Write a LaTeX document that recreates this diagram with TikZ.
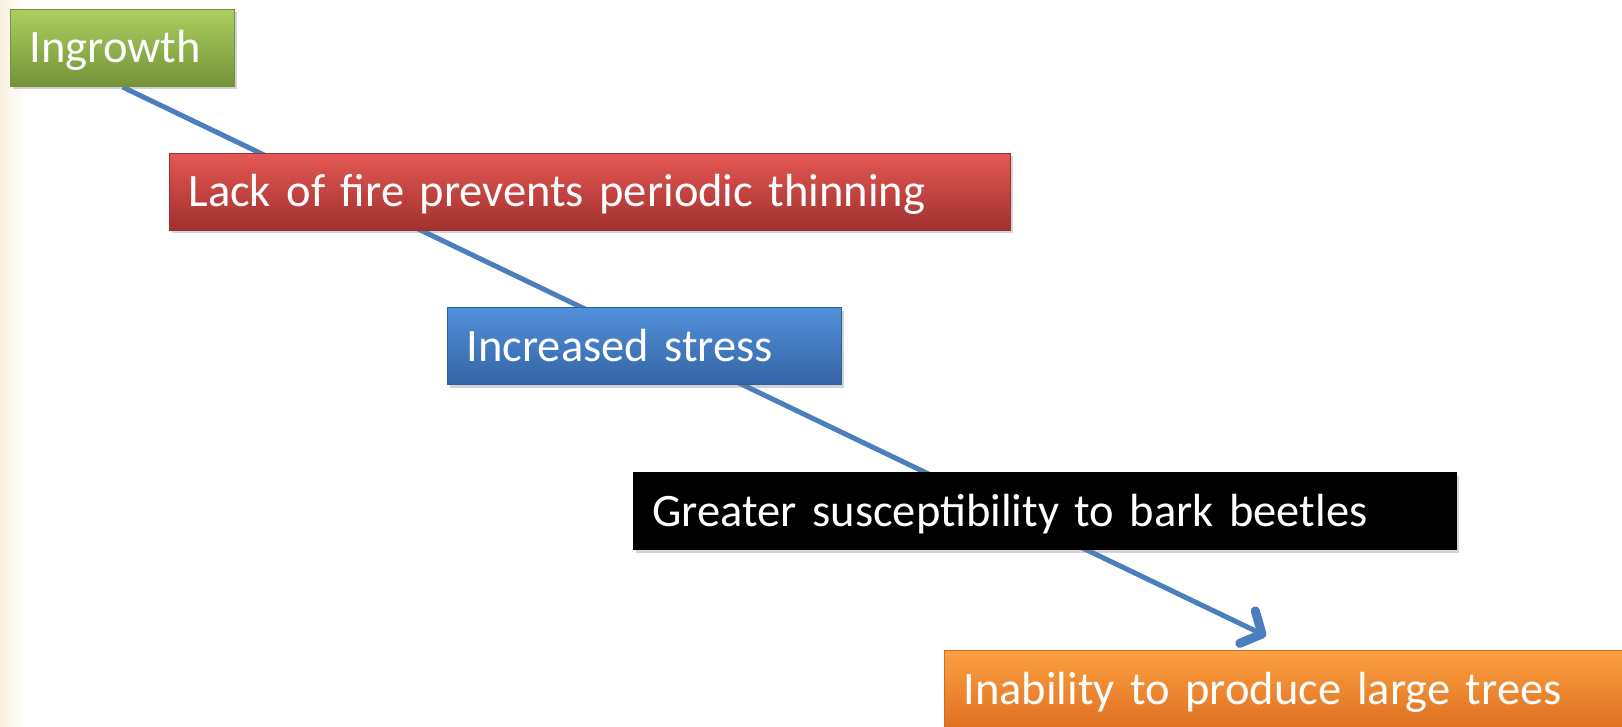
\documentclass[tikz,border=0pt]{standalone}
\usepackage{fontspec}
\setmainfont{Carlito}
\usetikzlibrary{arrows.meta,shadows,backgrounds}

\definecolor{linkblue}{RGB}{74,126,188}
\definecolor{paper}{RGB}{250,240,224}

\begin{document}
\begin{tikzpicture}[x=1pt,y=-1pt,
  stage/.style={anchor=north west, inner xsep=19pt, inner ysep=0pt,
    minimum height=77pt, align=left, text=white,
    font=\fontsize{46.5}{54}\selectfont, text height=30pt, text depth=0pt,
    line width=1pt,
    drop shadow={shadow xshift=2pt,shadow yshift=-3pt,opacity=0.35}},
  greenstage/.style={stage, draw={rgb,255:red,120;green,145;blue,62},
    top color={rgb,255:red,172;green,206;blue,96},
    bottom color={rgb,255:red,116;green,146;blue,56}},
  redstage/.style={stage, draw={rgb,255:red,150;green,50;blue,48},
    top color={rgb,255:red,228;green,88;blue,84},
    bottom color={rgb,255:red,160;green,48;blue,46}},
  bluestage/.style={stage, draw={rgb,255:red,50;green,95;blue,155},
    top color={rgb,255:red,82;green,144;blue,218},
    bottom color={rgb,255:red,52;green,100;blue,165}},
  blackstage/.style={stage, draw=black, fill=black},
  orangestage/.style={stage, draw={rgb,255:red,200;green,110;blue,40},
    top color={rgb,255:red,252;green,160;blue,64},
    bottom color={rgb,255:red,222;green,112;blue,34}},
  link/.style={draw=linkblue, line width=5pt,
    -{Straight Barb[length=16pt,width=36pt,round,line width=9pt]}}]

  \useasboundingbox (0,0) rectangle (1622,727);

  % the chain of stages
  \node[greenstage, text width=186pt] (ingrowth) at (10,9) {Ingrowth};
  \node[redstage, text width=803pt] (nofire) at (169,153) {Lack of fire prevents periodic thinning};
  \node[bluestage, text width=356pt] (stress) at (447,307) {Increased stress};
  \node[blackstage, text width=785pt] (beetles) at (633,472) {Greater susceptibility to bark beetles};
  \node[orangestage, text width=662pt] (notrees) at (944,650) {Inability to produce large trees};

  \coordinate (tip) at (1266,636);

  \begin{scope}[on background layer]
    \fill[left color=paper, right color=white] (0,0) rectangle (26,727);
    \draw[link] (ingrowth.south) -- (tip);
  \end{scope}
\end{tikzpicture}
\end{document}
